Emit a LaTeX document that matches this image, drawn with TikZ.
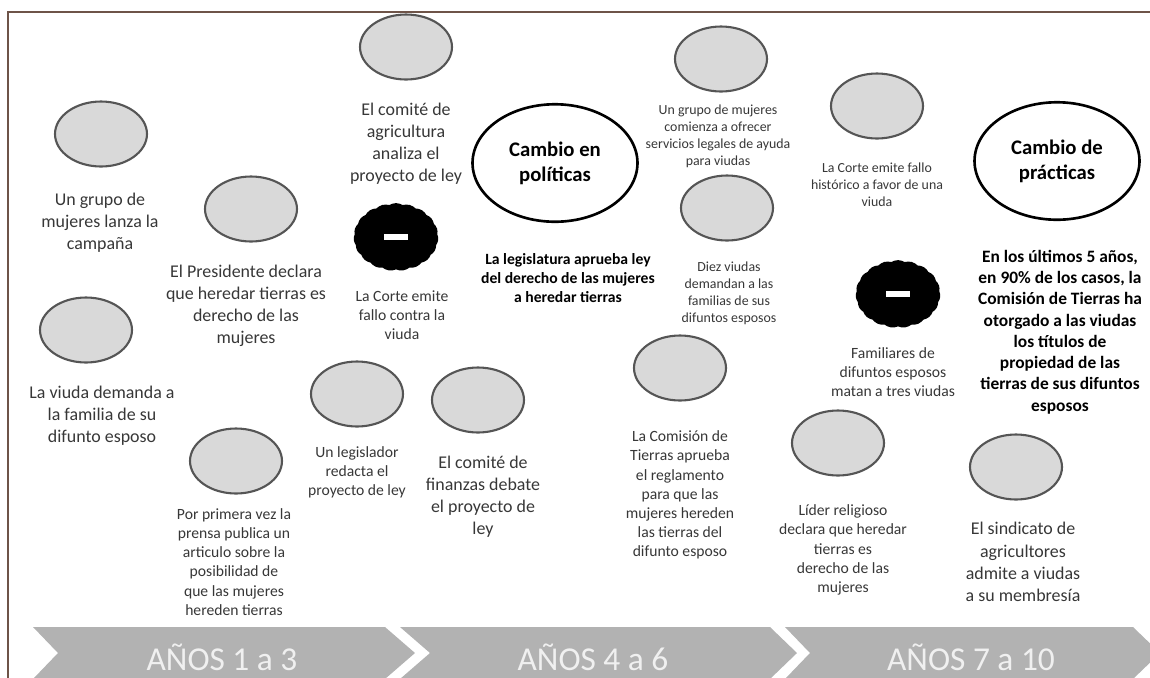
\documentclass[tikz,border=0pt]{standalone}
\usepackage{fontspec}
\setmainfont{Carlito}
\usetikzlibrary{shapes.geometric,shapes.symbols}
\definecolor{framebrown}{RGB}{110,84,72}
\definecolor{bandgray}{RGB}{178,178,178}
\definecolor{evfill}{RGB}{217,217,217}
\definecolor{evline}{RGB}{85,85,85}
\definecolor{txtgray}{RGB}{55,55,55}
\tikzset{
  event/.style={ellipse, draw=evline, fill=evfill, line width=1.2pt, minimum width=1.84cm, minimum height=1.3cm},
  change/.style={ellipse, draw=black, fill=white, line width=1.5pt, minimum width=3.3cm, minimum height=2.35cm, inner sep=0pt, align=center, font=\bfseries\fontsize{11.8}{14.2}\selectfont},
  setback/.style={cloud, cloud puffs=19, cloud puff arc=65, cloud ignores aspect, fill=black, draw=black, line width=1pt, minimum width=1.66cm, minimum height=1.32cm},
  dashbar/.style={rectangle, fill=white, inner sep=0pt, minimum width=0.48cm, minimum height=0.13cm},
  lbl/.style={align=center, inner sep=0pt, text=txtgray},
  bigtxt/.style={lbl, font=\fontsize{10.2}{12.6}\selectfont},
  midtxt/.style={lbl, font=\fontsize{8.9}{10.9}\selectfont},
  smalltxt/.style={lbl, font=\fontsize{7.9}{9.7}\selectfont},
  outcome/.style={align=center, inner sep=0pt, text=black, font=\bfseries\fontsize{8.9}{10.6}\selectfont},
  period/.style={text={rgb,255:red,240;green,240;blue,240}, font=\fontsize{19}{22}\selectfont}
}
\begin{document}
\begin{tikzpicture}[x=0.02cm,y=-0.02cm]
\useasboundingbox (0,0) rectangle (1150,677);
\clip (0,0) rectangle (1150,677);
% frame
\draw[framebrown, line width=1.3pt] (8,690) -- (8,12) -- (1160,12);
% time band
\fill[bandgray] (33,627) -- (385,627) -- (415,653) -- (385,679) -- (33,679) -- (58,653) -- cycle;
\fill[bandgray] (400,627) -- (770,627) -- (797,653) -- (770,679) -- (400,679) -- (430,653) -- cycle;
\fill[bandgray] (785,627) -- (1133,627) -- (1160,653) -- (1133,679) -- (785,679) -- (810,653) -- cycle;
\node[period] (y1) at (222,657) {AÑOS 1 a 3};
\node[period] (y2) at (593,657) {AÑOS 4 a 6};
\node[period] (y3) at (971,657) {AÑOS 7 a 10};
% events
\foreach \n/\x/\y in {1/101/134, 2/251/209, 3/86/330, 4/236/461, 5/357/394, 6/406/47, 7/721/59, 8/727/208, 9/680/368, 10/478/400, 11/877/106, 12/838/443, 13/1016/467}
  \node[event] (e\n) at (\x,\y) {};
% setbacks
\node[setback] (c1) at (396,237) {};
\node[dashbar] (c1bar) at (c1) {};
\node[setback] (c2) at (898,294) {};
\node[dashbar] (c2bar) at (c2) {};
% outcomes
\node[change] (p1) at (555,163) {Cambio en\\políticas};
\node[change] (p2) at (1057,161) {Cambio de\\prácticas};
% labels
\node[bigtxt] (t1) at (100,223) {Un grupo de\\mujeres lanza la\\campaña};
\node[bigtxt] (t2) at (246,306) {El Presidente declara\\que heredar tierras es\\derecho de las\\mujeres};
\node[bigtxt] (t3) at (102,416) {La viuda demanda a\\la familia de su\\difunto esposo};
\node[midtxt] (t4) at (234,562) {Por primera vez la\\prensa publica un\\articulo sobre la\\posibilidad de\\que las mujeres\\hereden tierras};
\node[midtxt] (t5) at (357,472) {Un legislador\\redacta el\\proyecto de ley};
\node[bigtxt] (t6) at (406,144) {El comité de\\agricultura\\analiza el\\proyecto de ley};
\node[midtxt] (t7) at (402,315) {La Corte emite\\fallo contra la\\viuda};
\node[outcome] (t8) at (568,278) {La legislatura aprueba ley\\del derecho de las mujeres\\a heredar tierras};
\node[smalltxt] (t9) at (718,136) {Un grupo de mujeres\\comienza a ofrecer\\servicios legales de ayuda\\para viudas};
\node[smalltxt] (t10) at (729,293) {Diez viudas\\demandan a las\\familias de sus\\difuntos esposos};
\node[midtxt] (t11) at (680,495) {La Comisión de\\Tierras aprueba\\el reglamento\\para que las\\mujeres hereden\\las tierras del\\difunto esposo};
\node[bigtxt] (t12) at (483,497) {El comité de\\finanzas debate\\el proyecto de\\ley};
\node[smalltxt] (t13) at (877,185) {La Corte emite fallo\\histórico a favor de una\\viuda};
\node[midtxt] (t14) at (893,372) {Familiares de\\difuntos esposos\\matan a tres viudas};
\node[midtxt] (t15) at (843,550) {Líder religioso\\declara que heredar\\tierras es\\derecho de las\\mujeres};
\node[bigtxt] (t16) at (1023,562) {El sindicato de\\agricultores\\admite a viudas\\a su membresía};
\node[outcome, font=\bfseries\fontsize{9.9}{12.1}\selectfont] (t17) at (1060,332) {En los últimos 5 años,\\en 90\% de los casos, la\\Comisión de Tierras ha\\otorgado a las viudas\\los títulos de\\propiedad de las\\tierras de sus difuntos\\esposos};
\end{tikzpicture}
\end{document}
